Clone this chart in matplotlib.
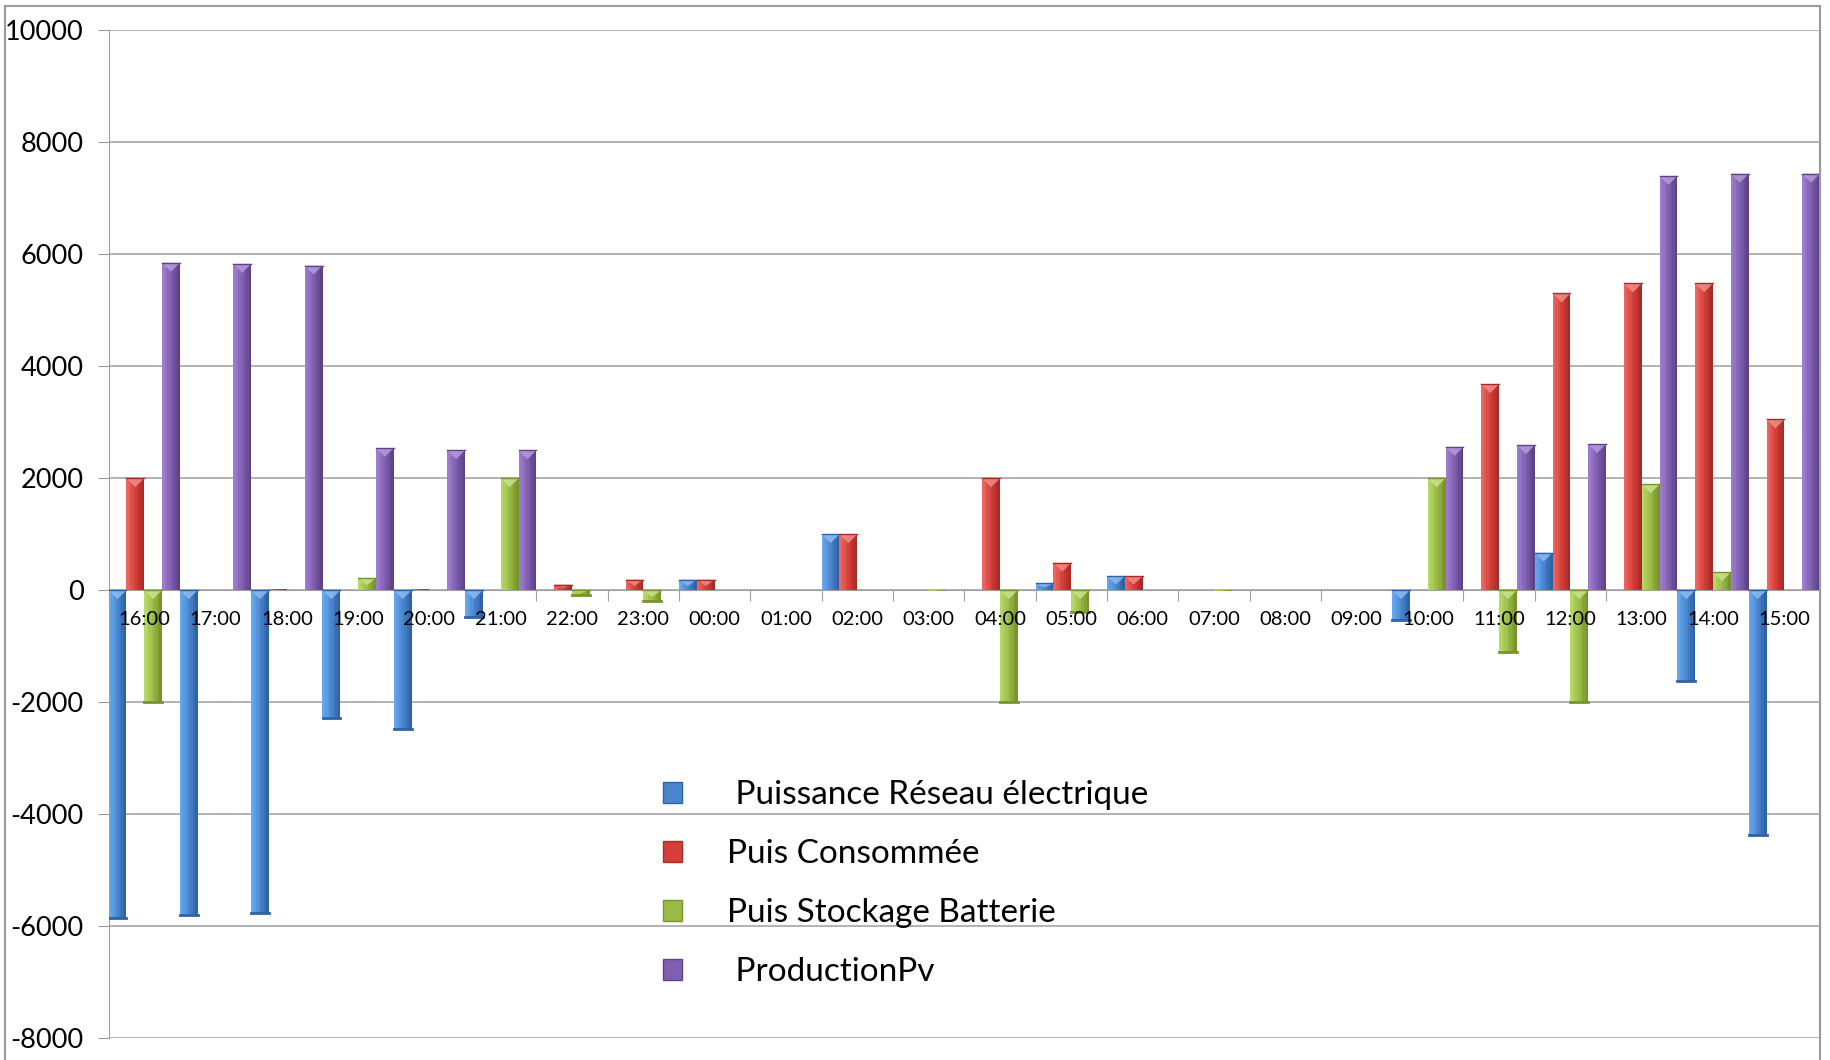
import matplotlib.pyplot as plt
import numpy as np
from matplotlib.patches import Patch, Polygon, Rectangle
from matplotlib.colors import to_rgb

plt.rcParams['font.family'] = ['Lato', 'DejaVu Sans']
plt.rcParams['axes.unicode_minus'] = False

heures = ['16:00', '17:00', '18:00', '19:00', '20:00', '21:00', '22:00', '23:00',
          '00:00', '01:00', '02:00', '03:00', '04:00', '05:00', '06:00', '07:00',
          '08:00', '09:00', '10:00', '11:00', '12:00', '13:00', '14:00', '15:00']

reseau = [-5850, -5810, -5770, -2290, -2480, -480, 0, 0, 190, 0, 1000, 0,
          0, 120, 250, 0, 0, 0, -540, 0, 670, 0, -1630, -4380]
consommee = [2000, 10, 15, 0, 15, 0, 100, 190, 190, 10, 1000, 0,
             2000, 490, 250, 0, 5, 5, 0, 3680, 5300, 5480, 5480, 3050]
stockage = [-2000, 0, 0, 220, 0, 2000, -80, -200, 0, 0, 0, -20,
            -2000, -390, 0, -15, 0, 0, 2000, -1110, -2000, 1890, 320, 0]
production = [5850, 5830, 5800, 2540, 2500, 2500, 0, 0, 0, 0, 0, 0,
              0, 0, 0, 0, 0, 0, 2560, 2590, 2610, 7400, 7440, 7440]

noms = [' Puissance Réseau électrique', 'Puis Consommée',
        'Puis Stockage Batterie', ' ProductionPv']
# clair, moyen, foncé pour chaque série
couleurs = [('#66A6EC', '#4A86CF', '#2F62A6'),
            ('#EC6560', '#D43F3A', '#A82B28'),
            ('#B5D866', '#9BBB47', '#77952C'),
            ('#9E7BCE', '#7F5FAF', '#5E428A')]


def melange(c1, c2, t):
    a, b = np.array(to_rgb(c1)), np.array(to_rgb(c2))
    return tuple(a + (b - a) * t)


def barres(ax, x, vals, w, cols, n=7):
    clair, moyen, fonce = cols
    vals = np.array(vals, dtype=float)
    # dégradé horizontal : bandes fines de gauche à droite
    for k in range(n):
        t = k / (n - 1)
        c = melange(clair, moyen, t * 2) if t < 0.5 else melange(moyen, fonce, (t - 0.5) * 2)
        xs = x - w / 2 + (k + 0.5) * w / n
        ax.bar(xs, vals, width=w / n * 1.02, color=c, linewidth=0, zorder=2)
    # biseau en triangle sur le haut de chaque barre, bord foncé en bas
    for xi, v in zip(x, vals):
        if abs(v) < 30:
            continue
        haut, bas = max(v, 0), min(v, 0)
        h = min(160, abs(v) * 0.6)
        tri = Polygon([(xi - w / 2, haut), (xi + w / 2, haut), (xi, haut - h)],
                      closed=True, facecolor=melange(clair, '#ffffff', 0.25),
                      edgecolor='none', alpha=0.85, zorder=3)
        ax.add_patch(tri)
        ax.plot([xi - w / 2, xi + w / 2], [haut, haut], color=fonce, lw=1, zorder=3)
        if bas < 0:
            ax.plot([xi - w / 2, xi + w / 2], [bas, bas], color=fonce, lw=2, zorder=3)


fig = plt.figure(figsize=(18.31, 10.60), dpi=100)
ax = fig.add_axes([0.0593, 0.0208, 0.9347, 0.9505])

x = np.arange(len(heures))
w = 0.25
series = [reseau, consommee, stockage, production]
for i, (vals, cols) in enumerate(zip(series, couleurs)):
    barres(ax, x + (i - 1.5) * w, vals, w, cols)

ax.set_xlim(-0.5, len(heures) - 0.5)
ax.set_ylim(-8000, 10000)
ax.set_yticks(np.arange(-8000, 10001, 2000))
ax.tick_params(axis='y', labelsize=19.5, length=8, color='#9a9a9a', pad=10)
ax.yaxis.grid(True, color='#a6a6a6', lw=1.2)
ax.set_axisbelow(True)

# axe des x au niveau zéro, graduations entre les heures
ax.spines['bottom'].set_position(('data', 0))
ax.spines['bottom'].set_color('#a0a0a0')
ax.spines['bottom'].set_zorder(1)
ax.spines['left'].set_color('#a0a0a0')
ax.spines['top'].set_visible(False)
ax.spines['right'].set_color('#a0a0a0')
ax.set_xticks(np.arange(-0.5, len(heures), 1))
ax.set_xticklabels([])
ax.tick_params(axis='x', length=8, direction='out', color='#a0a0a0')
for xi, h in zip(x, heures):
    ax.text(xi, -530, h, ha='center', va='center', fontsize=14.5, zorder=6)

poignees = [Patch(facecolor=c[1], edgecolor=c[2]) for c in couleurs]
ax.legend(poignees, noms, loc='upper left', bbox_to_anchor=(663 / 1831, 1 - 780 / 1060),
          bbox_transform=fig.transFigure, frameon=False, fontsize=24,
          handlelength=0.58, handleheight=0.58, handletextpad=1.35,
          labelspacing=0.87, borderpad=0, borderaxespad=0)

# cadre gris autour du graphique
fig.patches.append(Rectangle((5 / 1831, -0.05), 1815 / 1831, 1.05 - 6 / 1060,
                             transform=fig.transFigure, fill=False,
                             edgecolor='#9a9a9a', lw=1.5))

plt.savefig('out.png', dpi=100)
